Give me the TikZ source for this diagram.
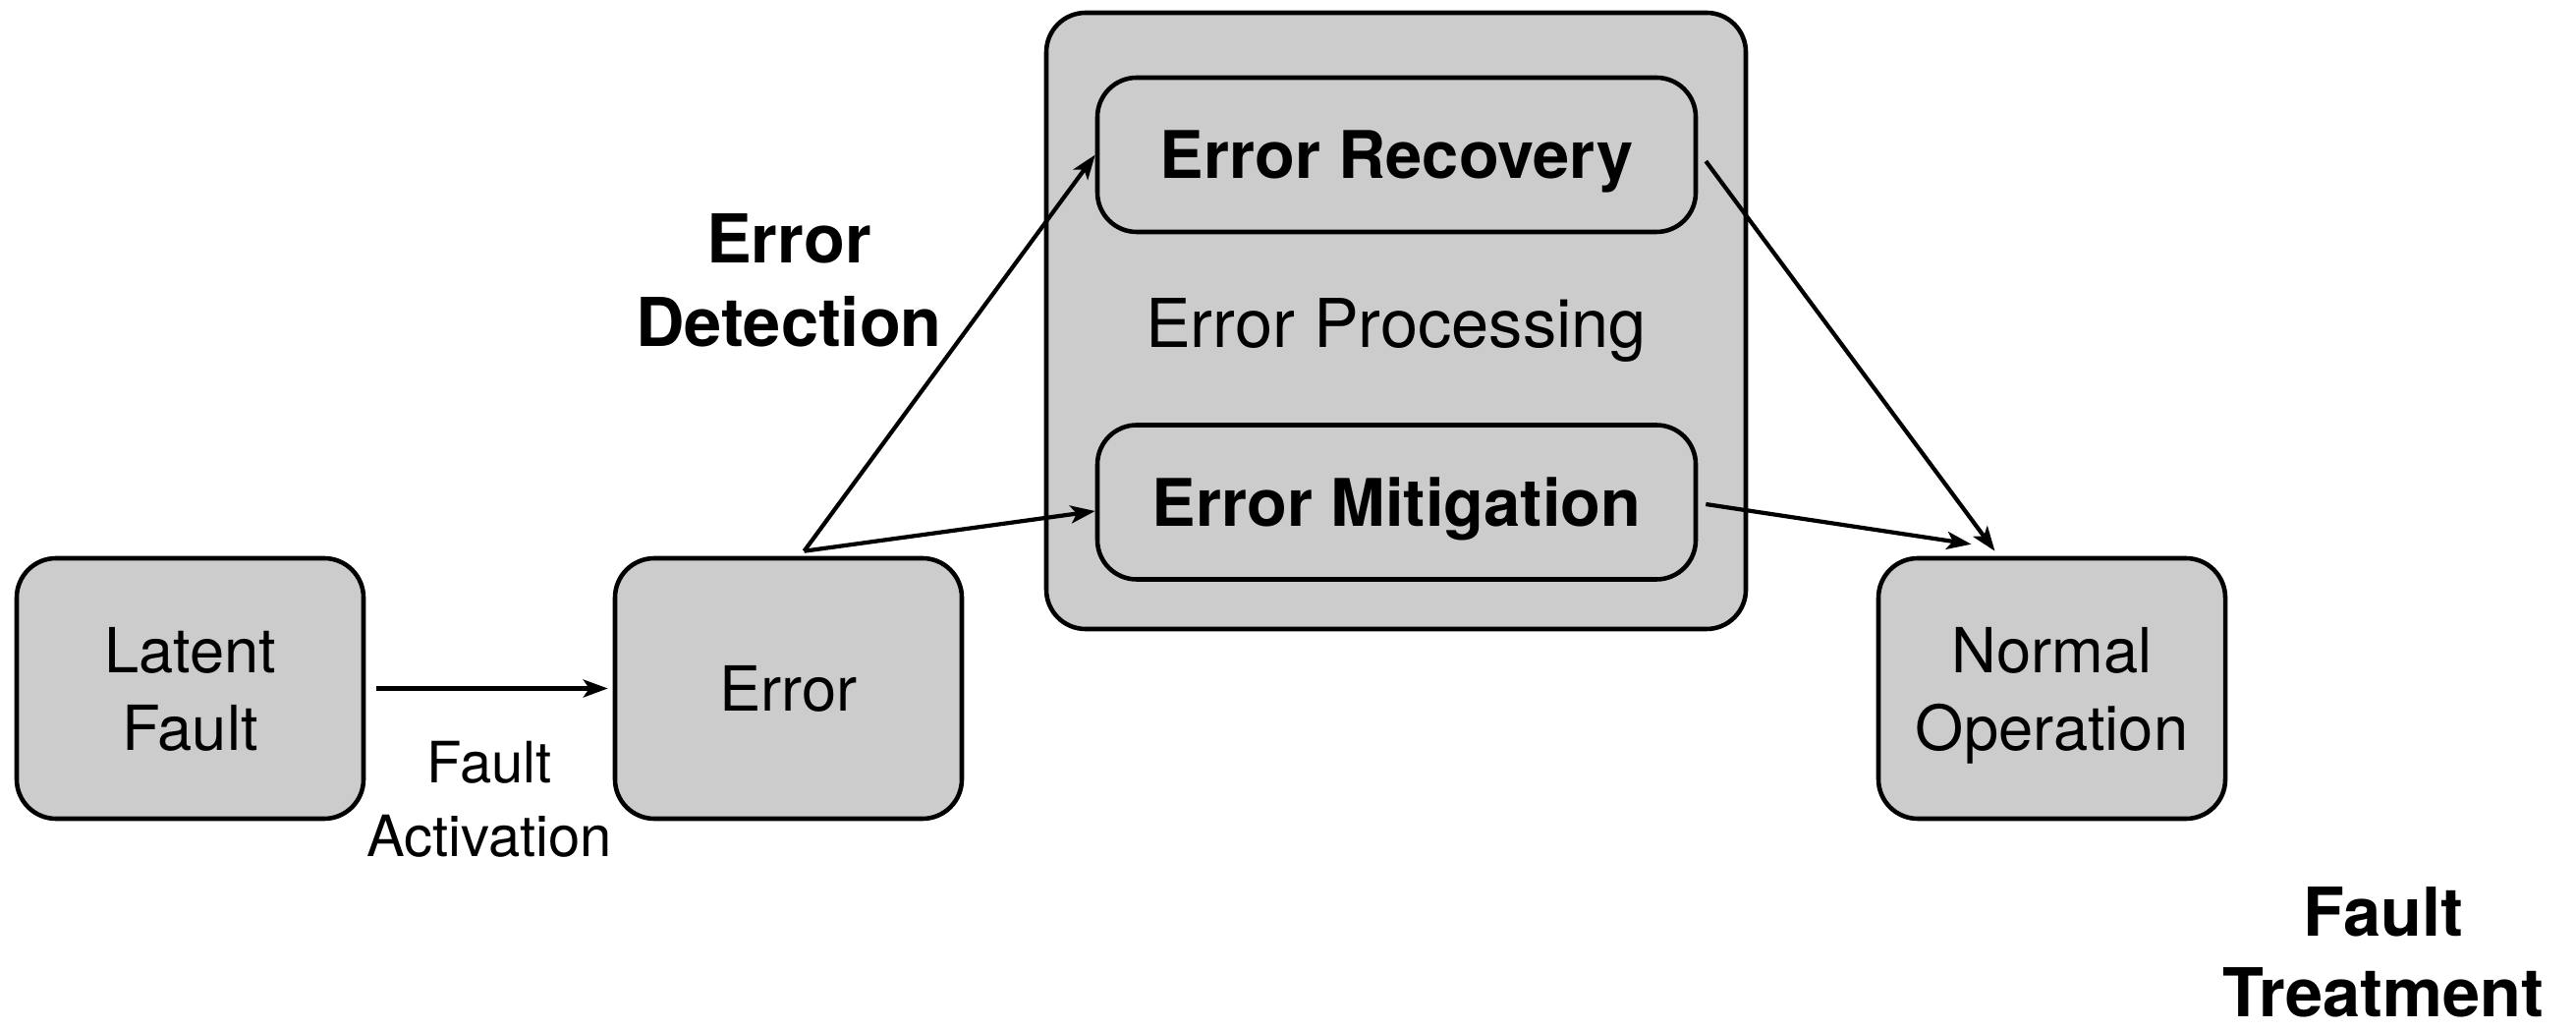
\documentclass[tikz,border=0pt]{standalone}
\usepackage{fontspec}
\setmainfont{TeX Gyre Heros}
\usetikzlibrary{arrows.meta}
\definecolor{boxgray}{HTML}{CCCCCC}
\tikzset{
  state/.style={draw, line width=1.3pt, fill=boxgray, rounded corners=0.4cm,
    minimum width=3.53cm, minimum height=2.65cm, inner sep=0pt, align=center,
    text depth=0pt, font=\fontsize{18}{22.5}\selectfont},
  phase/.style={draw, line width=1.3pt, fill=boxgray, rounded corners=0.4cm,
    minimum width=6.09cm, minimum height=1.57cm, inner sep=0pt,
    text height=13.7pt, text depth=0pt, font=\fontsize{19}{23}\selectfont\bfseries},
  heading/.style={align=center, inner sep=0pt, font=\fontsize{19.5}{24.2}\selectfont\bfseries},
  caption/.style={align=center, inner sep=0pt, font=\fontsize{16.5}{21.3}\selectfont},
  arr/.style={-{Stealth[length=0.25cm, width=0.18cm, inset=0.06cm]}, line width=1.2pt}
}
\begin{document}
\begin{tikzpicture}
  \useasboundingbox (0,0) rectangle (26.22,-10.49);

  \node[draw, line width=1.3pt, fill=boxgray, rounded corners=0.4cm,
    minimum width=7.12cm, minimum height=6.27cm] (proc) at (14.21,-3.265) {};
  \node[phase] (rec) at (14.215,-1.575) {Error Recovery};
  \node[phase] (mit) at (14.215,-5.11) {Error Mitigation};
  \node[inner sep=0pt, font=\fontsize{19.5}{23}\selectfont] (proclbl) at (14.21,-3.36) {Error Processing};

  \node[state] (lat) at (1.935,-7.005) {Latent\\Fault};
  \node[state] (err) at (8.025,-7.005) {Error};
  \node[state] (norm) at (20.885,-7.005) {Normal\\Operation};

  \node[heading] (det) at (8.03,-2.85) {Error\\Detection};
  \node[caption] (act) at (4.98,-8.13) {Fault\\Activation};
  \node[heading, anchor=south, font=\fontsize{19.5}{23.4}\selectfont\bfseries] (treat) at (24.26,-10.36) {Fault\\Treatment};

  \coordinate (fork) at ([xshift=0.16cm,yshift=0.05cm]err.north);
  \coordinate (inrec) at ([xshift=-0.58cm,yshift=0.05cm]norm.north);
  \coordinate (inmit) at ([xshift=-0.82cm,yshift=0.12cm]norm.north);

  \draw[arr, shorten <=0.11cm, shorten >=0.05cm] (lat) -- (err);
  \draw[arr] (fork) -- (rec.west);
  \draw[arr] (fork) -- ([yshift=-0.09cm]mit.west);
  \draw[arr] ([xshift=0.08cm,yshift=-0.065cm]rec.east) -- (inrec);
  \draw[arr] ([xshift=0.08cm,yshift=-0.02cm]mit.east) -- (inmit);
\end{tikzpicture}
\end{document}
